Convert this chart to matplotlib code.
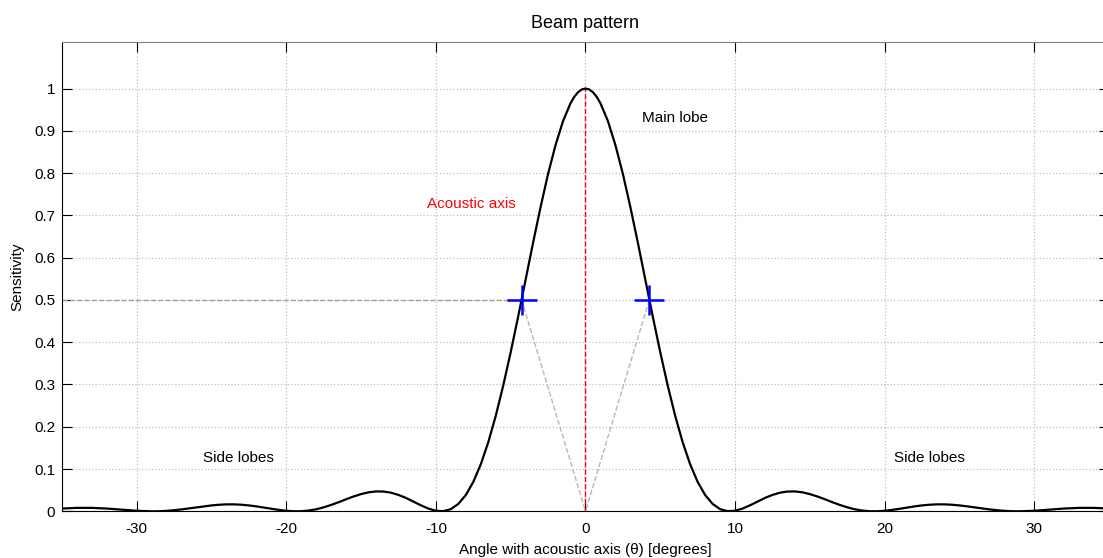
import numpy as np
import matplotlib.pyplot as plt

plt.rcParams['font.family'] = ['Liberation Sans', 'DejaVu Sans']

# Beam pattern (angle in degrees, sensitivity)
angle = [-35, -34, -33, -32, -31, -30, -29, -28.5, -28, -27.5, -27, -26.5, -26,
         -25.5, -25, -24.5, -24, -23.5, -23, -22.5, -22, -21.5, -21, -20.5, -20,
         -19.5, -19, -18.5, -18, -17.5, -17, -16.5, -16, -15.5, -15, -14.5, -14,
         -13.5, -13, -12.5, -12, -11.5, -11, -10.5, -10, -9.5, -9, -8.5, -8,
         -7.5, -7, -6.5, -6, -5.5, -5, -4.5, -4, -3.5, -3, -2.5, -2, -1.5, -1,
         -0.75, -0.5, -0.25, 0, 0.25, 0.5, 0.75, 1, 1.5, 2, 2.5, 3, 3.5, 4,
         4.5, 5, 5.5, 6, 6.5, 7, 7.5, 8, 8.5, 9, 9.5, 10, 10.5, 11, 11.5, 12,
         12.5, 13, 13.5, 14, 14.5, 15, 15.5, 16, 16.5, 17, 17.5, 18, 18.5, 19,
         19.5, 20, 20.5, 21, 21.5, 22, 22.5, 23, 23.5, 24, 24.5, 25, 25.5, 26,
         26.5, 27, 27.5, 28, 28.5, 29, 30, 31, 32, 33, 34, 35]
sensitivity = [0.0065, 0.0081, 0.0081, 0.0065, 0.0038, 0.0012, 0.0000, 0.0002,
               0.0011, 0.0026, 0.0045, 0.0069, 0.0094, 0.0118, 0.0139, 0.0155,
               0.0164, 0.0164, 0.0155, 0.0139, 0.0116, 0.0088, 0.0059, 0.0033,
               0.0012, 0.0001, 0.0002, 0.0018, 0.0048, 0.0094, 0.0151, 0.0216,
               0.0286, 0.0351, 0.0407, 0.0449, 0.0470, 0.0467, 0.0440, 0.0387,
               0.0316, 0.0229, 0.0141, 0.0064, 0.0012, 0.0003, 0.0051, 0.0175,
               0.0385, 0.0695, 0.1111, 0.1632, 0.2256, 0.2972, 0.3762, 0.4607,
               0.5482, 0.6357, 0.7199, 0.7981, 0.8664, 0.9230, 0.9652, 0.9803,
               0.9912, 0.9978, 1.0000, 0.9978, 0.9912, 0.9803, 0.9652, 0.9230,
               0.8664, 0.7981, 0.7199, 0.6357, 0.5482, 0.4607, 0.3762, 0.2972,
               0.2256, 0.1632, 0.1111, 0.0695, 0.0385, 0.0175, 0.0051, 0.0003,
               0.0012, 0.0064, 0.0141, 0.0229, 0.0316, 0.0387, 0.0440, 0.0467,
               0.0470, 0.0449, 0.0407, 0.0351, 0.0286, 0.0216, 0.0151, 0.0094,
               0.0048, 0.0018, 0.0002, 0.0001, 0.0012, 0.0033, 0.0059, 0.0088,
               0.0116, 0.0139, 0.0155, 0.0164, 0.0164, 0.0155, 0.0139, 0.0118,
               0.0094, 0.0069, 0.0045, 0.0026, 0.0011, 0.0002, 0.0000, 0.0012,
               0.0038, 0.0065, 0.0081, 0.0081, 0.0065]

# -3 dB (half sensitivity) points
half_angles = [-4.27, 4.27]
half_level = 0.5

xticks = [-30, -20, -10, 0, 10, 20, 30]
yticks = [0, 0.1, 0.2, 0.3, 0.4, 0.5, 0.6, 0.7, 0.8, 0.9, 1]
ytick_labels = ['0', '0.1', '0.2', '0.3', '0.4', '0.5', '0.6', '0.7', '0.8', '0.9', '1']

fig = plt.figure(figsize=(11.03, 5.58), dpi=100)
ax = fig.add_axes([0.0562, 0.0837, 0.9492, 0.841])

# guide lines
ax.plot([-35, half_angles[0]], [half_level, half_level], color='#a0a0a0',
        linestyle='--', linewidth=1, zorder=2)
for a in half_angles:
    ax.plot([a, 0], [half_level, 0], color='#b8b8b8', linestyle='--',
            linewidth=1, zorder=2)
ax.plot([0, 0], [0, 1], color='red', linestyle='--', linewidth=1, zorder=2)

ax.plot(angle, sensitivity, color='black', linewidth=1.6, zorder=3)
ax.plot(half_angles, [half_level] * 2, linestyle='none', marker='+',
        markersize=21, markeredgewidth=1.8, color='blue', zorder=4)

ax.text(6.0, 0.93, 'Main lobe', fontsize=11, ha='center', va='center')
ax.text(-7.6, 0.728, 'Acoustic axis', fontsize=11, ha='center', va='center',
        color='red')
ax.text(-23.2, 0.127, 'Side lobes', fontsize=11, ha='center', va='center')
ax.text(23.0, 0.127, 'Side lobes', fontsize=11, ha='center', va='center')

ax.set_xlim(-35, 35)
ax.set_ylim(0, 1.11)
ax.set_xticks(xticks)
ax.set_xticklabels([str(t) for t in xticks])
ax.set_yticks(yticks)
ax.set_yticklabels(ytick_labels)
ax.tick_params(direction='in', length=7.5, width=0.8, labelsize=11,
               top=True, right=True, colors='black')
ax.tick_params(axis='x', pad=8)
ax.tick_params(axis='y', pad=5)
ax.grid(True, linestyle=':', color='#c0c0c0', linewidth=0.9)
ax.spines['top'].set_color('#808080')
ax.spines['right'].set_color('#808080')

ax.set_title('Beam pattern', fontsize=13, pad=10)
ax.set_xlabel('Angle with acoustic axis (\u03b8) [degrees]', fontsize=11, labelpad=5)
ax.set_ylabel('Sensitivity', fontsize=11, labelpad=7)

fig.savefig('out.png', dpi=100)
